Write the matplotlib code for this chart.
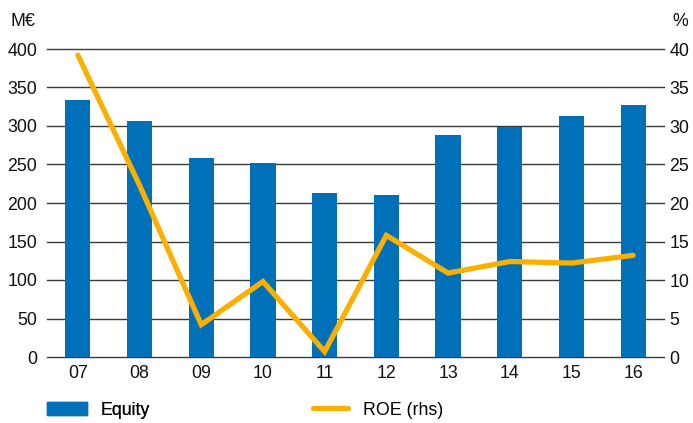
import matplotlib
matplotlib.use("Agg")
import matplotlib.pyplot as plt
from matplotlib.patches import Patch
from matplotlib.lines import Line2D

plt.rcParams['font.family'] = ['Liberation Sans', 'DejaVu Sans']

years = ["07", "08", "09", "10", "11", "12", "13", "14", "15", "16"]
equity = [334, 306, 258, 252, 213, 210, 288, 299, 313, 327]
roe = [39.2, 22.3, 4.2, 9.8, 0.7, 15.8, 10.9, 12.4, 12.2, 13.2]
left_ticks = [0, 50, 100, 150, 200, 250, 300, 350, 400]
right_ticks = [0, 5, 10, 15, 20, 25, 30, 35, 40]

bar_color = "#0070B8"
line_color = "#F9B000"
fs = 12.8

fig = plt.figure(figsize=(6.93, 4.23), dpi=100)
ax = fig.add_axes([47/693, (423-357)/423, (664-47)/693, (357-49)/423])
x = list(range(len(years)))
ax.bar(x, equity, width=0.41, color=bar_color, zorder=3)
ax.set_xlim(-0.5, len(years)-0.5)
ax.set_ylim(0, 400)
ax.set_yticks(left_ticks)
ax.set_xticks(x)
ax.set_xticklabels(years)
for t in left_ticks:
    ax.axhline(t, color="#3a3a3a", lw=1.0, zorder=1, clip_on=False)
for s in ax.spines.values():
    s.set_visible(False)
ax.tick_params(axis='both', length=0, labelsize=fs, colors="#111111")
ax.tick_params(axis='y', pad=7)
ax.tick_params(axis='x', pad=6)

ax2 = ax.twinx()
ax2.plot(x, roe, color=line_color, lw=3.8, solid_capstyle='round', solid_joinstyle='miter', zorder=4)
ax2.set_ylim(0, 40)
ax2.set_yticks(right_ticks)
for s in ax2.spines.values():
    s.set_visible(False)
ax2.tick_params(axis='y', length=0, labelsize=fs, colors="#111111", pad=4)

fig.text(10/693, 1-21/423, "M€", fontsize=fs, va='center', ha='left', color="#111111")
fig.text(688/693, 1-21/423, "%", fontsize=fs, va='center', ha='right', color="#111111")

em = fs * 100 / 72
leg1 = fig.legend(handles=[Patch(color=bar_color)], labels=["Equity"], loc='center left',
                  bbox_to_anchor=((47 - 0.9*em)/693, 1-410/423), frameon=False, fontsize=fs,
                  handlelength=40/em, handleheight=0.72, handletextpad=13/em)
leg2 = fig.legend(handles=[Line2D([0], [0], color=line_color, lw=3.8, solid_capstyle='round')],
                  labels=["ROE (rhs)"], loc='center left',
                  bbox_to_anchor=((313 - 0.9*em)/693, 1-410/423), frameon=False, fontsize=fs,
                  handlelength=35/em, handletextpad=15/em)
fig.add_artist(leg1)

fig.savefig("out.png", dpi=100)
